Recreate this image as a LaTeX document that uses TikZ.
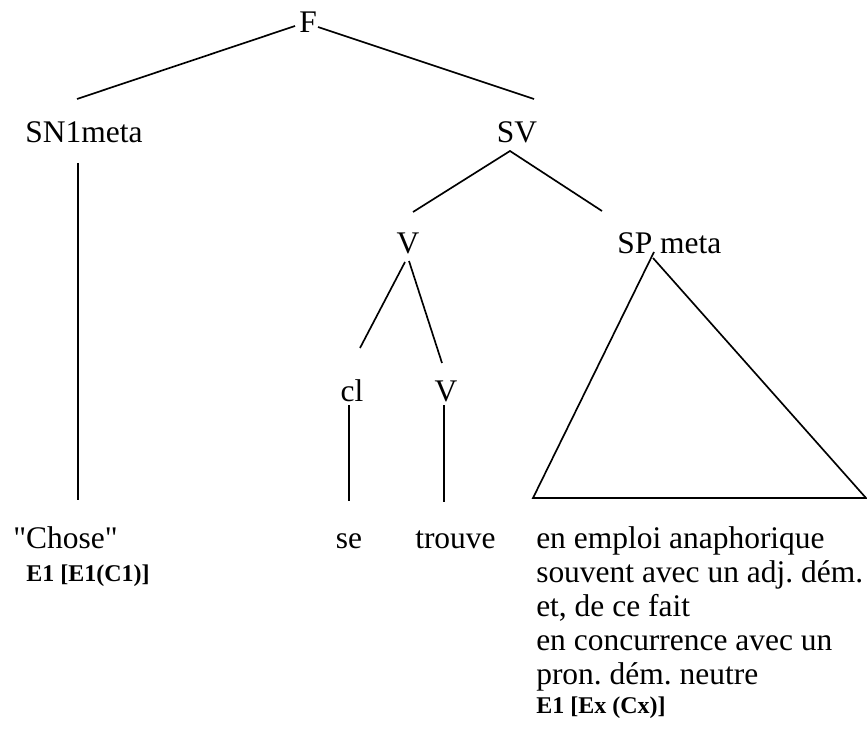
\documentclass[tikz,border=0pt]{standalone}
\usepackage{fontspec}
\setmainfont{Liberation Serif}
\frenchspacing
\begin{document}
\begin{tikzpicture}[x=0.75pt,y=-0.75pt,
  lbl/.style={inner sep=0pt, anchor=base, font=\fontsize{23.6}{28}\selectfont},
  lblw/.style={lbl, anchor=base west},
  tag/.style={inner sep=0pt, anchor=base west, font=\bfseries\fontsize{18}{21}\selectfont},
  edge/.style={line width=1.25pt}]
\useasboundingbox (0,0) rectangle (867,731);

% category labels
\node[lbl] (F) at (308,33) {F};
\node[lbl] (SN) at (84,143) {SN1meta};
\node[lbl] (SV) at (517,143) {SV};
\node[lbl] (V1) at (408,253) {V};
\node[lblw] (SP) at (617,253) {SP meta};
\node[lbl] (cl) at (352,401) {cl};
\node[lbl] (V2) at (446,401) {V};

% terminal strings
\node[lblw] (chose) at (13,548) {\textquotedbl Chose\textquotedbl};
\node[tag] (chosetag) at (26,581) {E1 [E1(C1)]};
\node[lbl] (se) at (349,548) {se};
\node[lblw] (trouve) at (415,548) {trouve};
\node[lblw] (r1) at (536,548) {en emploi anaphorique};
\node[lblw] (r2) at (536,582) {souvent avec un adj. dém.};
\node[lblw] (r3) at (536,616) {et, de ce fait};
\node[lblw] (r4) at (536,650) {en concurrence avec un};
\node[lblw] (r5) at (536,684) {pron. dém. neutre};
\node[tag] (rtag) at (536,713) {E1 [Ex (Cx)]};

% attachment points of the branches
\coordinate (F-l) at (295,26);
\coordinate (F-r) at (318,27);
\coordinate (SN-up) at (77,99);
\coordinate (SV-up) at (534,99);
\coordinate (SN-dn) at (78,163);
\coordinate (chose-up) at (78,500);
\coordinate (SV-dn) at (510,151);
\coordinate (V1-up) at (413,212);
\coordinate (SP-up) at (602,211);
\coordinate (V1-dl) at (405,262);
\coordinate (V1-dr) at (409,261);
\coordinate (cl-up) at (360,348);
\coordinate (V2-up) at (442,363);
\coordinate (cl-dn) at (349,405);
\coordinate (se-up) at (349,501);
\coordinate (V2-dn) at (444,405);
\coordinate (trouve-up) at (444,502);
\coordinate (tri-l) at (533,498);
\coordinate (tri-al) at (654,252);
\coordinate (tri-ar) at (653,258);
\coordinate (tri-r) at (866,498);

% branches
\draw[edge] (F-l) -- (SN-up);
\draw[edge] (F-r) -- (SV-up);
\draw[edge] (SN-dn) -- (chose-up);
\draw[edge] (V1-up) -- (SV-dn) -- (SP-up);
\draw[edge] (V1-dl) -- (cl-up);
\draw[edge] (V1-dr) -- (V2-up);
\draw[edge] (cl-dn) -- (se-up);
\draw[edge] (V2-dn) -- (trouve-up);

% triangle under SP meta
\draw[edge] (tri-al) -- (tri-l) -- (tri-r) -- (tri-ar);
\end{tikzpicture}
\end{document}
